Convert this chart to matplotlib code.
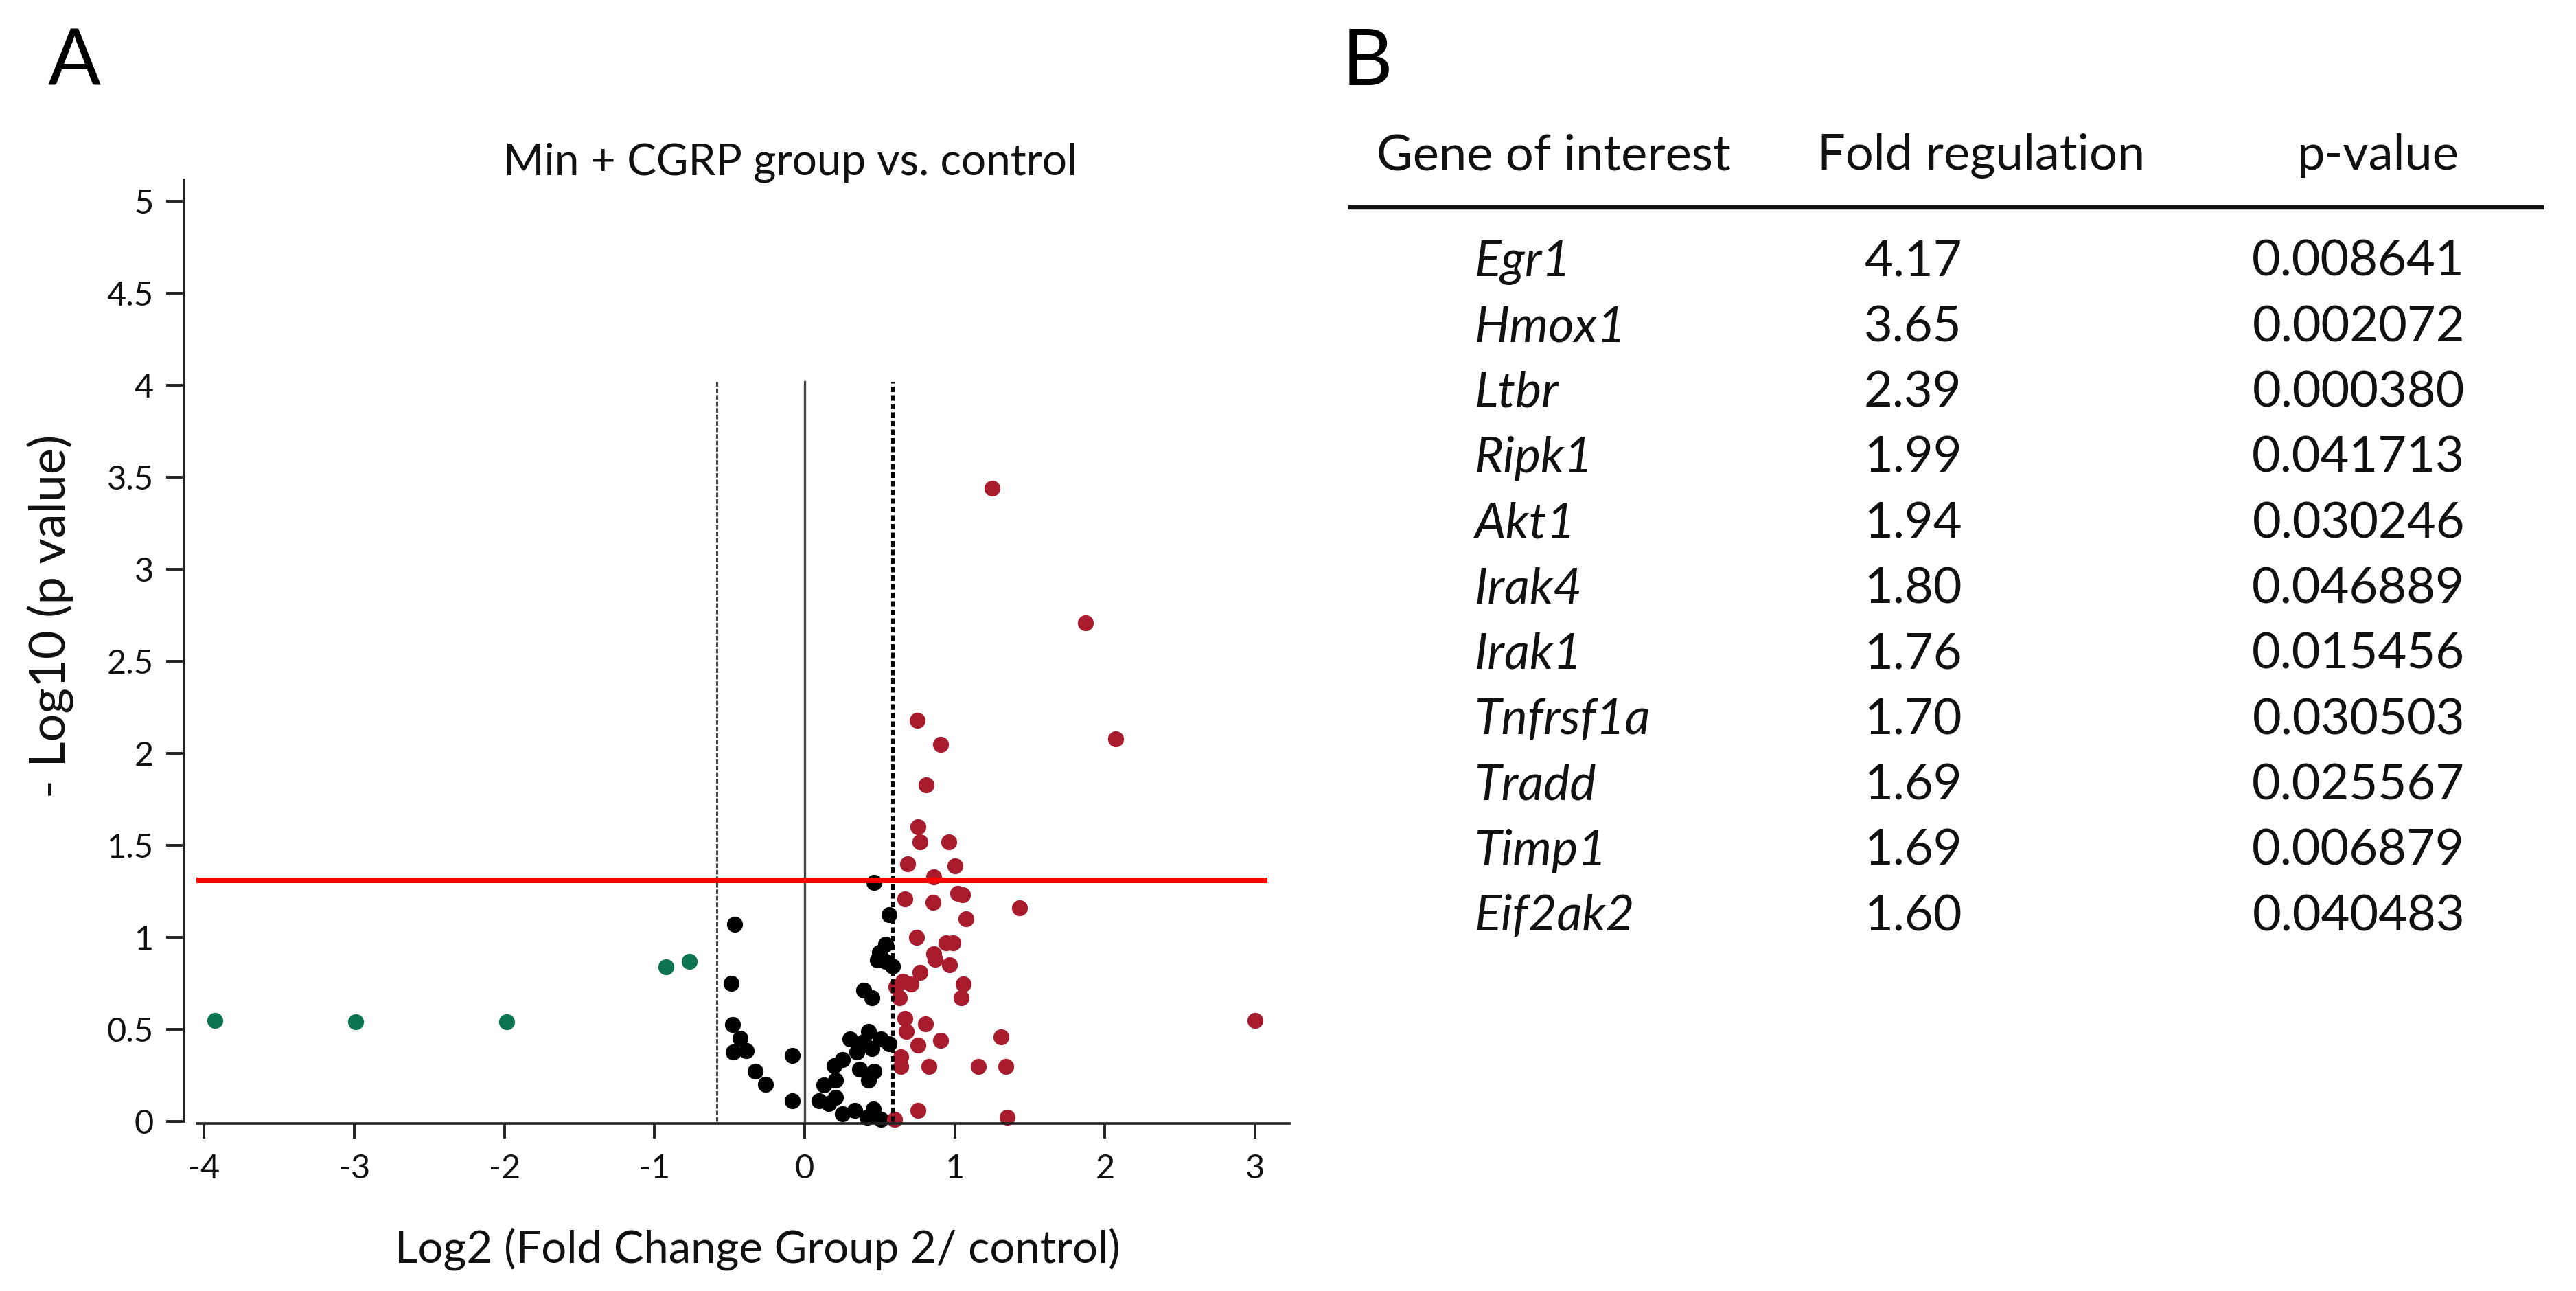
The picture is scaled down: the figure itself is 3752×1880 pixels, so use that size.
import matplotlib
matplotlib.use('Agg')
import matplotlib.pyplot as plt

W, H = 3752, 1880
DPI = 200
plt.rcParams['font.family'] = ['Lato', 'DejaVu Sans']

# ---------------- data ----------------
# up-regulated (red) genes: log2 fold change, -log10 p
up_x = [1.25, 1.87, 2.07, 0.75, 0.905, 0.81,
        0.753, 0.768, 0.959, 0.684, 0.999, 0.86,
        0.669, 0.857, 1.02, 1.05, 1.431, 1.073,
        0.745, 0.943, 0.989, 0.86, 0.867, 0.966, 0.768,
        0.608, 0.654, 0.707, 1.058, 1.043, 0.631,
        0.669, 0.677, 0.806, 0.753, 0.905, 1.309,
        0.639, 0.639, 0.829, 1.157, 1.34,
        0.753, 1.347, 0.60, 3.0]
up_y = [3.44, 2.71, 2.08, 2.18, 2.05, 1.83,
        1.60, 1.52, 1.52, 1.40, 1.39, 1.33,
        1.21, 1.19, 1.24, 1.23, 1.16, 1.10,
        1.00, 0.97, 0.97, 0.91, 0.88, 0.85, 0.81,
        0.73, 0.76, 0.745, 0.745, 0.67, 0.67,
        0.56, 0.49, 0.53, 0.415, 0.44, 0.46,
        0.35, 0.30, 0.30, 0.30, 0.30,
        0.06, 0.024, 0.011, 0.55]

# down-regulated (green) genes
down_x = [-3.93, -2.99, -1.985, -0.925, -0.77]
down_y = [0.55, 0.54, 0.54, 0.84, 0.87]

# not regulated (black) genes
ns_x = [0.46, 0.562, -0.466,
        0.54, 0.50, 0.485, 0.54, 0.585,
        -0.489, 0.395, 0.448,
        -0.481, -0.428, -0.474, -0.39, -0.329, -0.261, -0.082, -0.082,
        0.303, 0.425, 0.395, 0.509, 0.562, 0.448, 0.349, 0.25, 0.197,
        0.364, 0.463, 0.425, 0.204, 0.128, 0.097, 0.204, 0.159, 0.25,
        0.334, 0.456, 0.418, 0.509]
ns_y = [1.30, 1.124, 1.07,
        0.963, 0.919, 0.876, 0.869, 0.843,
        0.751, 0.714, 0.67,
        0.527, 0.453, 0.378, 0.384, 0.272, 0.20, 0.359, 0.111,
        0.447, 0.49, 0.434, 0.447, 0.422, 0.397, 0.378, 0.335, 0.303,
        0.285, 0.272, 0.223, 0.223, 0.198, 0.111, 0.13, 0.098, 0.042,
        0.061, 0.067, 0.024, 0.011]

xticks = [-4, -3, -2, -1, 0, 1, 2, 3]
xtick_labels = ['-4', '-3', '-2', '-1', '0', '1', '2', '3']
yticks = [0, 0.5, 1, 1.5, 2, 2.5, 3, 3.5, 4, 4.5, 5]
ytick_labels = ['0', '0.5', '1', '1.5', '2', '2.5', '3', '3.5', '4', '4.5', '5']

fc_cut = 0.585          # log2(1.5)
p_cut = 1.31            # -log10(0.05) threshold line
vline_top = 4.02

title = 'Min + CGRP group vs. control'
xlabel = 'Log2 (Fold Change Group 2/ control)'
ylabel = '- Log10 (p value)'

headers = ['Gene of interest', 'Fold regulation', 'p-value']
genes = ['Egr1', 'Hmox1', 'Ltbr', 'Ripk1', 'Akt1', 'Irak4', 'Irak1',
         'Tnfrsf1a', 'Tradd', 'Timp1', 'Eif2ak2']
fold = ['4.17', '3.65', '2.39', '1.99', '1.94', '1.80', '1.76',
        '1.70', '1.69', '1.69', '1.60']
pvals = ['0.008641', '0.002072', '0.000380', '0.041713', '0.030246',
         '0.046889', '0.015456', '0.030503', '0.025567', '0.006879',
         '0.040483']

# ---------------- figure ----------------
fig = plt.figure(figsize=(W / DPI, H / DPI), dpi=DPI)
fig.patch.set_facecolor('white')


def fx(px):
    return px / W


def fy(py):
    return 1 - py / H


ax = fig.add_axes([fx(268), fy(1636), fx(1878) - fx(268), fy(262) - fy(1636)])
ax.set_xlim(-4.134, 3.228)
ax.set_ylim(-0.011, 5.116)

red = '#A81C2E'
green = '#0C7550'
ms = 70
ax.scatter(ns_x, ns_y, s=ms, color='black', linewidths=0, zorder=2, clip_on=False)
ax.scatter(up_x, up_y, s=ms, color=red, linewidths=0, zorder=2, clip_on=False)
ax.scatter(down_x, down_y, s=ms, color=green, linewidths=0, zorder=2, clip_on=False)

# threshold lines
ax.plot([-fc_cut, -fc_cut], [0, vline_top], color='#444444', lw=1.1,
        ls=(0, (2.2, 0.9)), zorder=3)
ax.plot([0, 0], [0, vline_top], color='#444444', lw=1.2, zorder=3)
ax.plot([fc_cut, fc_cut], [0, vline_top], color='black', lw=1.8,
        ls=(0, (1.6, 0.9)), zorder=3)
ax.hlines(p_cut, -4.05, 3.08, color='#FF0000', lw=2.9, zorder=4)

# axes styling
for s in ['top', 'right']:
    ax.spines[s].set_visible(False)
for s in ['left', 'bottom']:
    ax.spines[s].set_linewidth(1.3)
    ax.spines[s].set_color('#222222')
ax.spines['left'].set_bounds(0, 5.116)
ax.spines['bottom'].set_bounds(-4.047, 3.228)

ax.set_xticks(xticks)
ax.set_xticklabels(xtick_labels)
ax.set_yticks(yticks)
ax.set_yticklabels(ytick_labels)
ax.tick_params(axis='y', length=9.4, width=1.4, pad=6.5, labelsize=17.5,
               color='#222222', labelcolor='#111111')
ax.tick_params(axis='x', length=7.9, width=1.4, pad=8.0, labelsize=17.5,
               color='#222222', labelcolor='#111111')

# titles / labels
fig.text(fx(1151), fy(254), title, ha='center', va='baseline', fontsize=23,
         color='#111111')
fig.text(fx(1103), fy(1838), xlabel, ha='center', va='baseline', fontsize=23.5,
         color='#111111')
fig.text(fx(74), fy(897), ylabel, ha='center', va='center', rotation=90,
         fontsize=26, color='#111111')

# panel letters
fig.text(fx(70), fy(124), 'A', ha='left', va='baseline', fontsize=41, color='black')
fig.text(fx(1955), fy(124), 'B', ha='left', va='baseline', fontsize=41, color='black')

# ---------------- table (panel B) ----------------
tfs = 26
hb = 247
fig.text(fx(2005), fy(hb), headers[0], ha='left', va='baseline', fontsize=tfs,
         color='#111111')
fig.text(fx(2886), fy(hb), headers[1], ha='center', va='baseline', fontsize=tfs,
         color='#111111')
fig.text(fx(3582), fy(hb), headers[2], ha='right', va='baseline', fontsize=tfs,
         color='#111111')
fig.add_artist(plt.Line2D([fx(1967), fx(3702)], [fy(302), fy(302)],
                          transform=fig.transFigure, color='#111111', lw=2.3))

row0 = 402
dy = 95.3
for i, (g, f, p) in enumerate(zip(genes, fold, pvals)):
    yb = fy(row0 + i * dy)
    fig.text(fx(2147), yb, g, ha='left', va='baseline', fontsize=tfs,
             style='italic', color='#111111')
    fig.text(fx(2786), yb, f, ha='center', va='baseline', fontsize=tfs,
             color='#111111')
    fig.text(fx(3590), yb, p, ha='right', va='baseline', fontsize=tfs,
             color='#111111')

fig.savefig('out.png', dpi=DPI, facecolor='white')
